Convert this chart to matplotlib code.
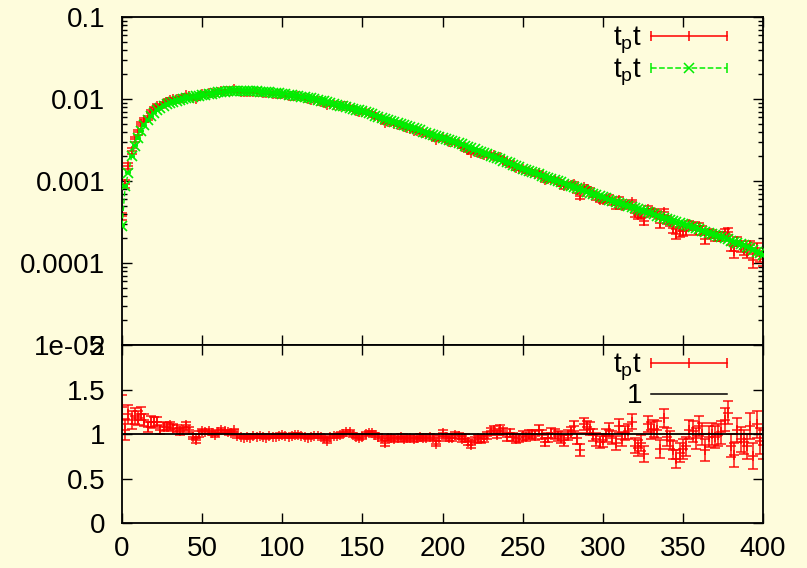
import numpy as np
import matplotlib
matplotlib.use("Agg")
import matplotlib.pyplot as plt
from matplotlib.lines import Line2D
from matplotlib.legend_handler import HandlerBase

plt.rcParams['font.family'] = ['Liberation Sans', 'DejaVu Sans']
plt.rcParams['mathtext.fontset'] = 'custom'
plt.rcParams['mathtext.rm'] = 'Liberation Sans'
plt.rcParams['mathtext.it'] = 'Liberation Sans'

# time slices 0..400, step 2
t = np.arange(0, 401, 2)

# green curve (reference correlator)
green = [
    2.85e-4, 8.71e-4, 1.26e-3, 2.00e-3, 2.69e-3, 3.31e-3, 4.07e-3, 4.79e-3, 5.50e-3, 6.17e-3,
    6.76e-3, 7.24e-3, 7.76e-3, 8.22e-3, 8.61e-3, 8.91e-3, 9.23e-3, 9.55e-3, 9.77e-3, 1.00e-2,
    1.023e-2, 1.042e-2, 1.059e-2, 1.076e-2, 1.094e-2, 1.109e-2, 1.127e-2, 1.146e-2, 1.164e-2, 1.183e-2,
    1.202e-2, 1.213e-2, 1.225e-2, 1.236e-2, 1.247e-2, 1.256e-2, 1.262e-2, 1.265e-2, 1.265e-2, 1.262e-2,
    1.259e-2, 1.250e-2, 1.242e-2, 1.233e-2, 1.225e-2, 1.216e-2, 1.205e-2, 1.194e-2, 1.183e-2, 1.172e-2,
    1.161e-2, 1.146e-2, 1.130e-2, 1.114e-2, 1.099e-2, 1.084e-2, 1.067e-2, 1.050e-2, 1.033e-2, 1.016e-2,
    1.000e-2, 9.77e-3, 9.55e-3, 9.33e-3, 9.12e-3, 8.91e-3, 8.71e-3, 8.51e-3, 8.32e-3, 8.13e-3,
    7.94e-3, 7.76e-3, 7.59e-3, 7.41e-3, 7.24e-3, 7.08e-3, 6.87e-3, 6.67e-3, 6.47e-3, 6.28e-3,
    6.10e-3, 5.92e-3, 5.74e-3, 5.57e-3, 5.41e-3, 5.25e-3, 5.09e-3, 4.94e-3, 4.80e-3, 4.66e-3,
    4.52e-3, 4.39e-3, 4.26e-3, 4.13e-3, 4.01e-3, 3.89e-3, 3.78e-3, 3.68e-3, 3.58e-3, 3.48e-3,
    3.39e-3, 3.28e-3, 3.18e-3, 3.08e-3, 2.98e-3, 2.88e-3, 2.79e-3, 2.69e-3, 2.60e-3, 2.51e-3,
    2.43e-3, 2.34e-3, 2.26e-3, 2.19e-3, 2.11e-3, 2.04e-3, 1.97e-3, 1.90e-3, 1.83e-3, 1.76e-3,
    1.70e-3, 1.64e-3, 1.58e-3, 1.52e-3, 1.47e-3, 1.41e-3, 1.37e-3, 1.32e-3, 1.28e-3, 1.24e-3,
    1.20e-3, 1.16e-3, 1.13e-3, 1.09e-3, 1.06e-3, 1.02e-3, 9.91e-4, 9.59e-4, 9.29e-4, 8.99e-4,
    8.71e-4, 8.43e-4, 8.17e-4, 7.91e-4, 7.66e-4, 7.41e-4, 7.18e-4, 6.95e-4, 6.73e-4, 6.52e-4,
    6.31e-4, 6.12e-4, 5.94e-4, 5.77e-4, 5.60e-4, 5.43e-4, 5.27e-4, 5.12e-4, 4.97e-4, 4.82e-4,
    4.68e-4, 4.54e-4, 4.41e-4, 4.28e-4, 4.15e-4, 4.03e-4, 3.91e-4, 3.79e-4, 3.68e-4, 3.57e-4,
    3.47e-4, 3.37e-4, 3.27e-4, 3.17e-4, 3.08e-4, 2.99e-4, 2.90e-4, 2.81e-4, 2.73e-4, 2.65e-4,
    2.57e-4, 2.49e-4, 2.42e-4, 2.35e-4, 2.28e-4, 2.21e-4, 2.14e-4, 2.07e-4, 2.01e-4, 1.95e-4,
    1.88e-4, 1.82e-4, 1.76e-4, 1.70e-4, 1.64e-4, 1.58e-4, 1.51e-4, 1.45e-4, 1.38e-4, 1.32e-4,
    1.26e-4,
]

# ratio red / green (bottom panel)
ratio = [
    1.30, 1.05, 1.22, 1.16, 1.20, 1.18, 1.23, 1.16, 1.08, 1.14,
    1.13, 1.14, 1.05, 1.08, 1.08, 1.10, 1.07, 1.06, 1.03, 1.04,
    1.10, 1.05, 0.97, 0.93, 1.00, 1.03, 1.02, 1.03, 1.01, 0.99,
    1.02, 1.04, 1.03, 1.02, 1.01, 1.04, 0.98, 0.97, 0.96, 0.97,
    0.96, 0.98, 0.97, 0.98, 0.97, 0.96, 0.98, 0.97, 0.97, 0.98,
    0.99, 0.98, 0.97, 0.98, 0.99, 0.99, 0.98, 0.97, 0.96, 0.97,
    0.98, 0.98, 0.97, 0.95, 0.92, 0.97, 0.98, 0.98, 0.99, 1.00,
    1.02, 1.02, 0.99, 0.97, 0.96, 0.97, 1.00, 1.01, 1.01, 0.99,
    0.97, 0.95, 0.90, 0.95, 0.96, 0.94, 0.95, 0.97, 0.94, 0.95,
    0.96, 0.94, 0.95, 0.97, 0.96, 0.95, 0.97, 0.96, 0.89, 0.95,
    1.01, 0.97, 0.95, 0.96, 0.99, 0.98, 0.94, 0.96, 0.91, 0.88,
    0.93, 0.95, 0.94, 0.95, 0.98, 1.03, 1.05, 0.99, 1.06, 1.03,
    0.97, 1.01, 0.97, 0.94, 0.96, 0.98, 0.97, 0.99, 1.00, 0.98,
    1.05, 0.99, 0.91, 0.96, 1.01, 1.00, 0.98, 0.96, 0.93, 0.99,
    1.02, 1.09, 0.95, 0.82, 1.11, 1.08, 1.06, 0.99, 0.94, 0.91,
    0.93, 0.98, 1.05, 0.96, 0.90, 1.09, 0.94, 1.01, 1.03, 1.14,
    0.87, 0.84, 0.90, 0.77, 1.11, 1.04, 1.06, 1.05, 0.83, 1.18,
    0.97, 0.93, 0.82, 0.72, 0.79, 0.83, 0.86, 1.05, 1.03, 0.95,
    1.09, 1.00, 0.82, 0.97, 1.00, 0.97, 0.99, 1.02, 1.16, 1.24,
    0.87, 0.76, 1.04, 0.94, 0.91, 0.86, 1.09, 0.75, 1.11, 0.92,
    0.88,
]

# ratio error bars
ratio_err = [
    0.14, 0.12, 0.11, 0.10, 0.09, 0.08, 0.07, 0.07, 0.06, 0.06,
    0.06, 0.05, 0.05, 0.05, 0.04, 0.04, 0.04, 0.04, 0.04, 0.035,
    0.035, 0.03, 0.03, 0.03, 0.03, 0.03, 0.025, 0.025, 0.025, 0.025,
    0.025, 0.025, 0.02, 0.02, 0.02, 0.02, 0.02, 0.02, 0.02, 0.02,
    0.02, 0.02, 0.02, 0.02, 0.02, 0.02, 0.02, 0.02, 0.02, 0.02,
    0.02, 0.02, 0.02, 0.02, 0.02, 0.02, 0.02, 0.02, 0.02, 0.02,
    0.02, 0.02, 0.02, 0.02, 0.025, 0.02, 0.02, 0.02, 0.02, 0.02,
    0.02, 0.02, 0.02, 0.02, 0.025, 0.025, 0.025, 0.025, 0.025, 0.025,
    0.025, 0.025, 0.03, 0.025, 0.025, 0.025, 0.025, 0.025, 0.025, 0.025,
    0.03, 0.03, 0.03, 0.03, 0.03, 0.03, 0.03, 0.03, 0.03, 0.03,
    0.035, 0.03, 0.03, 0.035, 0.035, 0.035, 0.035, 0.035, 0.035, 0.04,
    0.035, 0.035, 0.04, 0.04, 0.04, 0.04, 0.04, 0.04, 0.045, 0.04,
    0.045, 0.045, 0.045, 0.045, 0.045, 0.05, 0.045, 0.05, 0.05, 0.05,
    0.05, 0.05, 0.05, 0.055, 0.055, 0.055, 0.055, 0.06, 0.06, 0.06,
    0.06, 0.06, 0.065, 0.065, 0.065, 0.065, 0.07, 0.07, 0.07, 0.07,
    0.075, 0.075, 0.075, 0.075, 0.08, 0.08, 0.08, 0.08, 0.085, 0.085,
    0.085, 0.09, 0.09, 0.09, 0.09, 0.095, 0.095, 0.095, 0.10, 0.10,
    0.10, 0.10, 0.105, 0.105, 0.11, 0.11, 0.11, 0.11, 0.115, 0.115,
    0.115, 0.12, 0.12, 0.12, 0.12, 0.125, 0.125, 0.13, 0.13, 0.13,
    0.13, 0.135, 0.135, 0.14, 0.14, 0.14, 0.145, 0.145, 0.15, 0.15,
    0.16,
]

green = np.array(green)
ratio = np.array(ratio)
ratio_err = np.array(ratio_err)
red = green * ratio
red_err = green * ratio_err
green_err = green * 0.01

top_ticks = [1e-5, 1e-4, 1e-3, 1e-2, 1e-1]
top_ticklabels = ['1e-05', '0.0001', '0.001', '0.01', '0.1']
bot_ticks = [0, 0.5, 1, 1.5, 2]
bot_ticklabels = ['0', '0.5', '1', '1.5', '2']
x_ticks = [0, 50, 100, 150, 200, 250, 300, 350, 400]

BG = '#fefcdc'
RED = '#ff0000'
GREEN = '#00ee00'
FS = 20


class GnuHandler(HandlerBase):
    def __init__(self, color, ls='-', marker=None, caps=True):
        super().__init__()
        self.color, self.ls, self.marker, self.caps = color, ls, marker, caps

    def create_artists(self, legend, orig_handle, xdescent, ydescent, width, height, fontsize, trans):
        y = height / 2 - ydescent
        x0, x1 = -xdescent, width - xdescent
        arts = [Line2D([x0, x1], [y, y], color=self.color, ls=self.ls, lw=1.1)]
        if self.marker:
            arts.append(Line2D([(x0 + x1) / 2], [y], marker=self.marker, color=self.color,
                               ms=7, mew=1.1, ls='none'))
        if self.caps:
            arts.append(Line2D([x0, x1], [y, y], marker='|', color=self.color, ms=7,
                               mew=1.1, ls='none'))
        for a in arts:
            a.set_transform(trans)
        return arts


fig = plt.figure(figsize=(8.07, 5.68), dpi=100, facecolor=BG)
ax1 = fig.add_axes([0.1512, 0.3926, 0.7943, 0.5775], facecolor=BG)
ax2 = fig.add_axes([0.1512, 0.0792, 0.7943, 0.3134], facecolor=BG)

ax1.errorbar(t, red, yerr=red_err, fmt='+', color=RED, ms=7, mew=1.2,
             elinewidth=1.2, capsize=3.5, capthick=1.2, alpha=0.85, zorder=2)
ax1.errorbar(t, green, yerr=green_err, fmt='x', color=GREEN, ms=6.5, mew=1.2,
             ls='--', lw=1.0, elinewidth=1.0, capsize=2, zorder=3)
ax1.set_yscale('log')
ax1.set_ylim(1e-5, 0.1)
ax1.set_xlim(0, 400)
ax1.set_yticks(top_ticks)
ax1.set_yticklabels(top_ticklabels)
ax1.set_xticks(x_ticks)
ax1.set_xticklabels([])

ax2.errorbar(t, ratio, yerr=ratio_err, fmt='+', color=RED, ms=7, mew=1.2,
             elinewidth=1.2, capsize=3.5, capthick=1.2, alpha=0.85, zorder=2)
ax2.axhline(1, color='black', lw=1.3, zorder=3)
ax2.set_xlim(0, 400)
ax2.set_ylim(0, 2)
ax2.set_yticks(bot_ticks)
ax2.set_yticklabels(bot_ticklabels)
ax2.set_xticks(x_ticks)
ax2.set_xticklabels([str(v) for v in x_ticks])

for ax in (ax1, ax2):
    for s in ax.spines.values():
        s.set_linewidth(1.3)
    ax.tick_params(which='major', direction='in', top=True, right=True,
                   length=7, width=1.0, labelsize=FS)
    ax.tick_params(which='minor', direction='in', top=True, right=True,
                   length=3.5, width=1.0)
    ax.tick_params(axis='y', pad=12)
    ax.tick_params(axis='x', pad=9)
ax2.minorticks_off()
ax1.xaxis.set_minor_locator(plt.NullLocator())

lab = r'$\mathregular{t_pt}$'
h1, h2, h3, h4 = Line2D([], []), Line2D([], []), Line2D([], []), Line2D([], [])
ax1.legend([h1, h2], [lab, lab], loc='upper right', bbox_to_anchor=(0.9438, 0.975),
           frameon=False, markerfirst=False, fontsize=FS, handlelength=2.75,
           handletextpad=0.3, labelspacing=0.0, borderpad=0, borderaxespad=0,
           handler_map={h1: GnuHandler(RED, '-', '|'),
                        h2: GnuHandler(GREEN, '--', 'x')})
ax2.legend([h3, h4], [lab, '1'], loc='upper right', bbox_to_anchor=(0.9438, 0.96),
           frameon=False, markerfirst=False, fontsize=FS, handlelength=2.75,
           handletextpad=0.3, labelspacing=0.0, borderpad=0, borderaxespad=0,
           handler_map={h3: GnuHandler(RED, '-', '|'),
                        h4: GnuHandler('black', '-', None, caps=False)})

fig.savefig('out.png', dpi=100, facecolor=BG)
